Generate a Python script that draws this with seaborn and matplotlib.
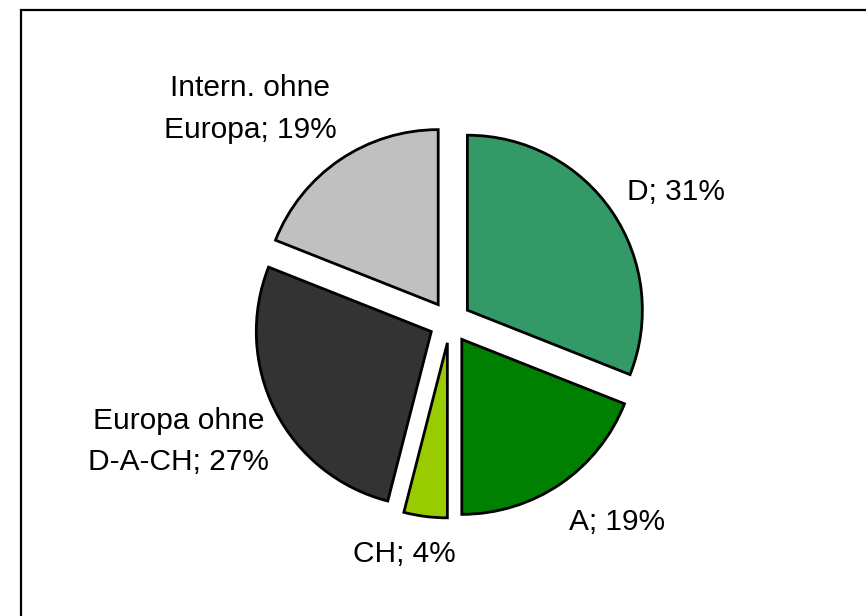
import matplotlib
matplotlib.use("Agg")
import matplotlib.pyplot as plt
import matplotlib.patches as mpatches
import seaborn as sns

categories = ["D", "A", "CH", "Europa ohne\nD-A-CH", "Intern. ohne\nEuropa"]
shares = [31, 19, 4, 27, 19]
colors = ["#339966", "#008000", "#99CC00", "#333333", "#C0C0C0"]

# label anchor positions (figure fraction) and alignment
label_pos = [(0.781, 0.675), (0.712, 0.140), (0.467, 0.088), (0.206, 0.283), (0.289, 0.823)]
label_va = ["baseline", "baseline", "baseline", "center", "center"]

sns.set_theme(style="white")
plt.rcParams["font.family"] = ["Liberation Sans", "DejaVu Sans"]

W, H, DPI = 866, 616, 100
fig = plt.figure(figsize=(W / DPI, H / DPI), dpi=DPI)
ax = fig.add_axes([0, 0, 1, 1])

R = 175.0  # pixels per unit radius
cx, cy = 450.0, 322.0  # pie center (pixels, from top-left)

ax.pie(shares, colors=colors, startangle=90, counterclock=False,
       explode=[0.12] * len(shares), radius=1.0,
       wedgeprops=dict(edgecolor="black", linewidth=2.0, joinstyle="miter"))
ax.set_xlim(-cx / R, (W - cx) / R)
ax.set_ylim(-(H - cy) / R, cy / R)
ax.set_aspect("equal")
ax.axis("off")

for cat, val, (x, y), va in zip(categories, shares, label_pos, label_va):
    fig.text(x, y, f"{cat}; {val}%", ha="center", va=va, fontsize=21.5,
             color="black", linespacing=1.6)

border = mpatches.Rectangle((20.5 / W, -0.05), 1.2, 1 - 9.5 / H + 0.05,
                            transform=fig.transFigure, fill=False,
                            edgecolor="black", linewidth=1.6, clip_on=False)
fig.patches.append(border)

fig.savefig("out.png", dpi=DPI, facecolor="white")
